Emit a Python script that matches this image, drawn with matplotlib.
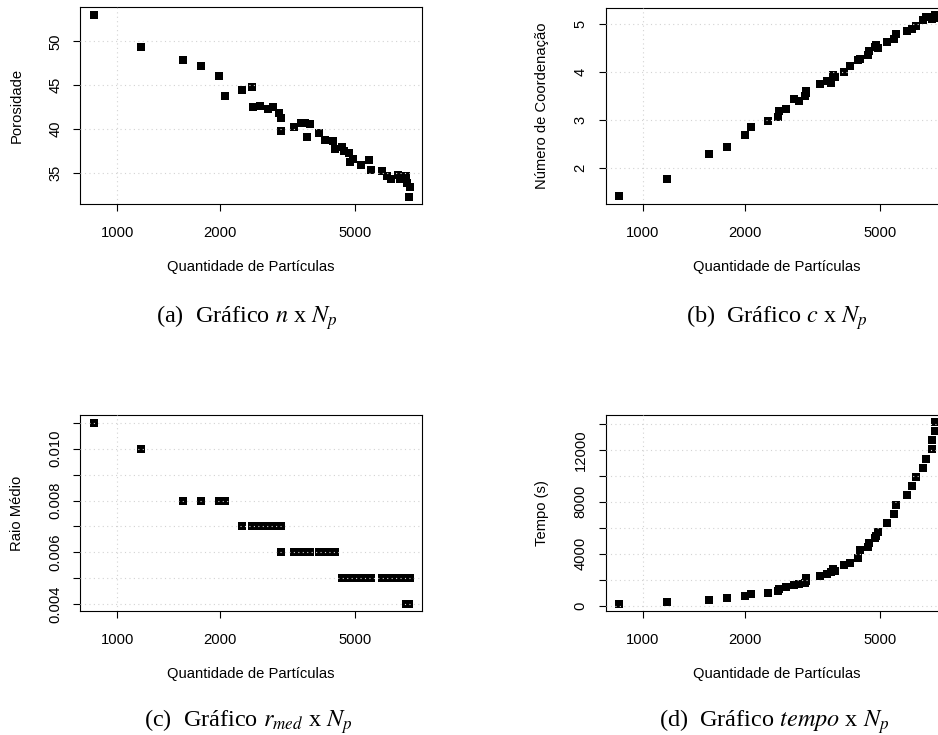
import matplotlib
matplotlib.use("Agg")
import matplotlib.pyplot as plt
import numpy as np

# ---------------- data ----------------
Np = [851, 1177, 1564, 1767, 1997, 2080, 2334, 2497, 2514, 2636, 2784, 2880,
      2999, 3020, 3020, 3313, 3473, 3570, 3626, 3676, 3907, 4069, 4305, 4355,
      4596, 4628, 4809, 4843, 4923, 5217, 5483, 5574, 5998, 6207, 6365, 6698,
      6791, 7082, 7110, 7256, 7225]

porosidade = [53.0, 49.4, 47.9, 47.15, 46.0, 43.7, 44.4, 44.75, 42.46, 42.6,
              42.27, 42.46, 41.78, 41.2, 39.72, 40.18, 40.67, 40.67, 39.04,
              40.52, 39.53, 38.69, 38.58, 37.67, 37.93, 37.51, 37.25, 36.18,
              36.6, 35.92, 36.41, 35.27, 35.15, 34.62, 34.24, 34.77, 34.28,
              34.58, 33.78, 33.33, 32.26]

coordenacao = [1.42, 1.77, 2.29, 2.44, 2.69, 2.85, 2.98, 3.06, 3.19, 3.23,
               3.44, 3.41, 3.51, 3.56, 3.61, 3.75, 3.81, 3.78, 3.94, 3.90,
               4.00, 4.125, 4.25, 4.27, 4.36, 4.45, 4.53, 4.56, 4.50, 4.63,
               4.69, 4.79, 4.85, 4.90, 4.97, 5.08, 5.15, 5.12, 5.15, 5.13, 5.20]

raio = [0.011, 0.010, 0.008, 0.008, 0.008, 0.008, 0.007, 0.007, 0.007, 0.007,
        0.007, 0.007, 0.007, 0.007, 0.006, 0.006, 0.006, 0.006, 0.006, 0.006,
        0.006, 0.006, 0.006, 0.006, 0.005, 0.005, 0.005, 0.005, 0.005, 0.005,
        0.005, 0.005, 0.005, 0.005, 0.005, 0.005, 0.005, 0.004, 0.005, 0.005,
        0.004]

tempo = [130, 256, 436, 564, 718, 897, 960, 1128, 1308, 1436, 1590, 1660,
         1769, 1900, 2103, 2282, 2436, 2564, 2820, 2667, 3128, 3308, 3667,
         4256, 4487, 4795, 5179, 5400, 5641, 6333, 7026, 7718, 8487, 9180,
         9872, 10564, 11256, 12026, 12718, 13410, 14100]

xticks = [1000, 2000, 5000]
xlabel = "Quantidade de Partículas"

# ---------------- style ----------------
plt.rcParams['font.family'] = ['Liberation Sans', 'DejaVu Sans']
plt.rcParams['mathtext.fontset'] = 'stix'
FS = 10.6
W, H = 938, 735
fig = plt.figure(figsize=(W / 100, H / 100), dpi=100)


def px_axes(left, top, right, bottom):
    return fig.add_axes([left / W, 1 - bottom / H, (right - left) / W, (bottom - top) / H])


def panel(ax, y, ylim, yticks, ylabels, ylabel):
    ax.set_xscale('log')
    ax.plot(Np, y, linestyle='none', marker='s', markersize=5.4,
            markeredgewidth=0, color='black', zorder=2)
    ax.set_xlim(778, 7860)
    ax.set_ylim(*ylim)
    ax.set_xticks(xticks)
    ax.set_xticklabels([str(t) for t in xticks])
    ax.xaxis.set_minor_locator(matplotlib.ticker.NullLocator())
    ax.set_yticks(yticks)
    ax.set_yticklabels(ylabels)
    ax.tick_params(axis='both', direction='out', length=5, width=0.8,
                   labelsize=FS, colors='black')
    ax.tick_params(axis='x', pad=10.5)
    ax.tick_params(axis='y', pad=8)
    for lab in ax.get_yticklabels():
        lab.set_rotation(90)
        lab.set_va('center')
    # dotted grid drawn over the points (as R's grid())
    for t in yticks:
        ax.axhline(t, color='#D3D3D3', linestyle=(0, (1, 3)), linewidth=0.8, zorder=3)
    ax.axvline(1000, color='#D3D3D3', linestyle=(0, (1, 3)), linewidth=0.8, zorder=3)
    for s in ax.spines.values():
        s.set_linewidth(0.8)
    ax.set_xlabel(xlabel, fontsize=FS)
    ax.set_ylabel(ylabel, fontsize=FS)
    ax.xaxis.set_label_coords(0.5, -0.285)
    ax.yaxis.set_label_coords(-0.165, 0.5)


L1, R1 = 80.3, 421.7
L2, R2 = 605.7, 947.1

ax_a = px_axes(L1, 7.3, R1, 204)
panel(ax_a, porosidade, (31.42, 53.88), [35, 40, 45, 50],
      ['35', '40', '45', '50'], 'Porosidade')

ax_b = px_axes(L2, 8.3, R2, 204)
panel(ax_b, coordenacao, (1.256, 5.333), [2, 3, 4, 5],
      ['2', '3', '4', '5'], 'Número de Coordenação')

yc = [0.004, 0.005, 0.006, 0.007, 0.008, 0.009, 0.010, 0.011]
ax_c = px_axes(L1, 415, R1, 611)
panel(ax_c, raio, (0.00374, 0.0113), yc,
      ['0.004', '', '0.006', '', '0.008', '', '0.010', ''], 'Raio Médio')

yd = [0, 2000, 4000, 6000, 8000, 10000, 12000, 14000]
ax_d = px_axes(L2, 415, R2, 611)
panel(ax_d, tempo, (-408, 14677), yd,
      ['0', '', '4000', '', '8000', '', '12000', ''], 'Tempo (s)')

# captions
cap_kw = dict(ha='center', va='center', fontsize=17.5,
              family=['Liberation Serif', 'DejaVu Serif'])
fig.text(247 / W, 1 - 318 / H, r"(a)  Gráfico $n$ x $N_p$", **cap_kw)
fig.text(777 / W, 1 - 318 / H, r"(b)  Gráfico $c$ x $N_p$", **cap_kw)
fig.text(248 / W, 1 - 722 / H, r"(c)  Gráfico $r_{med}$ x $N_p$", **cap_kw)
fig.text(774 / W, 1 - 722 / H, r"(d)  Gráfico $tempo$ x $N_p$", **cap_kw)

fig.savefig("out.png", dpi=100)
